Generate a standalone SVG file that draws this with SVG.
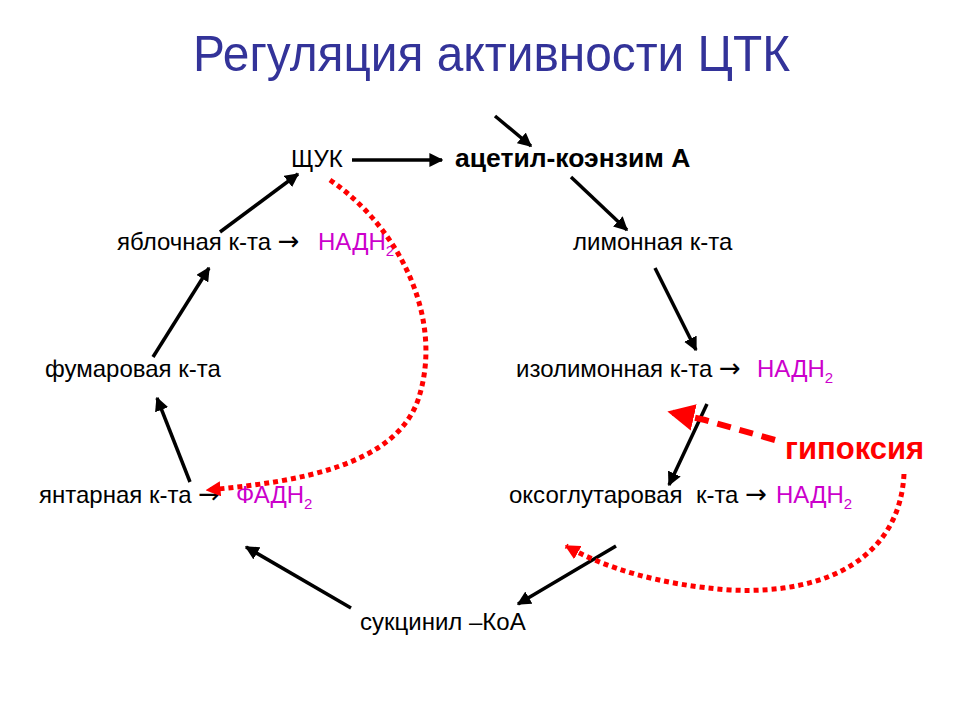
<svg xmlns="http://www.w3.org/2000/svg" width="960" height="720" viewBox="0 0 960 720">
<defs>
<marker id="ah" viewBox="0 0 10 10" refX="9" refY="5" markerWidth="4" markerHeight="4" orient="auto" markerUnits="strokeWidth"><path d="M0,0 L10,5 L0,10 z" fill="#000"/></marker>
<marker id="rs" viewBox="0 0 10 10" refX="9" refY="5" markerWidth="3" markerHeight="3" orient="auto" markerUnits="strokeWidth"><path d="M0,0 L10,5 L0,10 z" fill="#f00"/></marker>
<marker id="rb" viewBox="0 0 10 10" refX="9" refY="5" markerWidth="4.5" markerHeight="4.5" orient="auto" markerUnits="strokeWidth"><path d="M0,0 L10,5 L0,10 z" fill="#f00"/></marker>
</defs>
<style>
text{font-family:"Liberation Sans",Arial,sans-serif;font-size:24px;fill:#000}
.t{font-size:50px;fill:#333399}
.m{fill:#cc00cc}
.s{font-size:15px}
.r{font-family:"DejaVu Sans",sans-serif;font-size:26px}
.b{font-weight:bold;font-size:26.5px}
.g{font-weight:bold;font-size:31px;fill:#f00}
.a{stroke:#000;stroke-width:3.5;fill:none;marker-end:url(#ah)}
.d{stroke:#f00;stroke-width:5;fill:none;stroke-dasharray:5 4}
.k{stroke:#f00;stroke-width:6;fill:none;stroke-dasharray:14 9}
</style>
<rect width="960" height="720" fill="#fff"/>
<text class="t" x="193" y="71" textLength="597" lengthAdjust="spacingAndGlyphs">Регуляция активности ЦТК</text>
<g id="schuk"><text x="291" y="167">ЩУК</text></g>
<g id="acetyl"><text class="b" x="455" y="167">ацетил-коэнзим А</text></g>
<g id="malic"><text x="117" y="250">яблочная к-та <tspan class="r">→</tspan></text><text class="m" x="318" y="250">НАДН<tspan class="s" dy="6">2</tspan></text></g>
<g id="citric"><text x="573" y="250">лимонная к-та</text></g>
<g id="fumaric"><text x="45" y="377">фумаровая к-та</text></g>
<g id="isocitric"><text x="516" y="377">изолимонная к-та <tspan class="r">→</tspan></text><text class="m" x="757" y="377">НАДН<tspan class="s" dy="6">2</tspan></text></g>
<g id="succinic"><text x="39" y="503">янтарная к-та <tspan class="r">→</tspan></text><text class="m" x="236" y="503">ФАДН<tspan class="s" dy="6">2</tspan></text></g>
<g id="oxoglutaric"><text x="509" y="503" xml:space="preserve">оксоглутаровая  к-та <tspan class="r">→</tspan></text><text class="m" x="776" y="503">НАДН<tspan class="s" dy="6">2</tspan></text></g>
<g id="succinylcoa"><text x="360" y="630">сукцинил –КоА</text></g>
<g id="hypoxia"><text class="g" x="785" y="459">гипоксия</text></g>
<g id="connectors">
<line class="a" x1="495" y1="116" x2="531" y2="146"/>
<line class="a" x1="352" y1="160" x2="442" y2="160"/>
<line class="a" x1="571" y1="177" x2="627" y2="230"/>
<line class="a" x1="655" y1="268" x2="696" y2="350"/>
<line class="a" x1="707" y1="404" x2="669" y2="485"/>
<line class="a" x1="616" y1="546" x2="518" y2="604"/>
<line class="a" x1="351" y1="608" x2="246" y2="547"/>
<line class="a" x1="190" y1="482" x2="157" y2="398"/>
<line class="a" x1="153" y1="357" x2="209" y2="268"/>
<line class="a" x1="220" y1="232" x2="298" y2="174"/>
<path class="d" marker-end="url(#rs)" d="M330,180 C400,228 445,320 418,400 C395,465 300,482 207,490"/>
<path class="k" marker-end="url(#rb)" d="M775,440 L705,420 L670,412"/>
<path class="d" marker-end="url(#rs)" d="M904,474 C900,555 830,595 730,590 C660,585 605,568 566,546"/>
</g>
</svg>
